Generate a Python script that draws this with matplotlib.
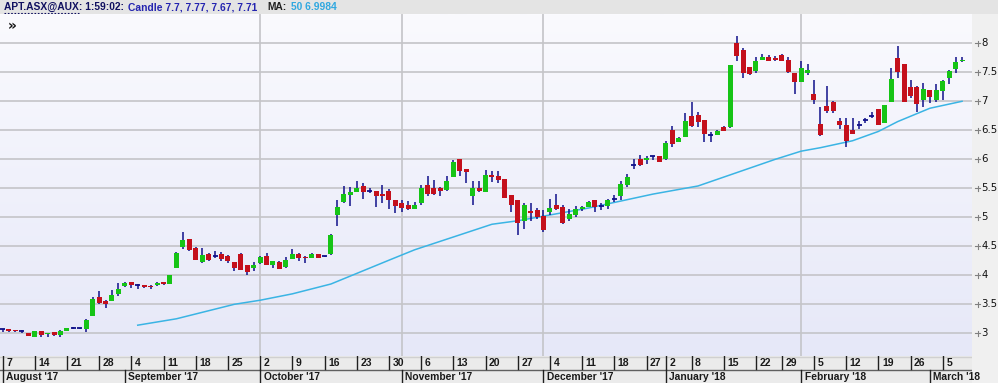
import numpy as np
import pandas as pd
import matplotlib
matplotlib.use("Agg")
import matplotlib.pyplot as plt
from matplotlib.patches import Rectangle
from matplotlib.colors import LinearSegmentedColormap

# ---------------- data ----------------
holidays = ["2017-12-25", "2017-12-26", "2018-01-01", "2018-01-26"]
dates = [d for d in pd.bdate_range("2017-08-07", "2018-03-08") if d.strftime("%Y-%m-%d") not in holidays]

opens = [3.07, 3.07, 3.05, 3.04, 3.01, 2.94, 3.04, 2.98, 3.02, 2.97,
         3.04, 3.10, 3.09, 3.08, 3.30, 3.63, 3.56, 3.56, 3.68, 3.82,
         3.88, 3.84, 3.83, 3.82, 3.83, 3.88, 3.85, 4.13, 4.48, 4.62,
         4.47, 4.23, 4.37, 4.34, 4.37, 4.33, 4.23, 4.37, 4.18, 4.13,
         4.22, 4.33, 4.17, 4.23, 4.14, 4.28, 4.37, 4.32, 4.30, 4.36,
         4.33, 4.36, 5.04, 5.26, 5.39, 5.44, 5.54, 5.46, 5.45, 5.40,
         5.46, 5.30, 5.24, 5.22, 5.15, 5.25, 5.56, 5.51, 5.51, 5.47,
         5.70, 6.01, 5.84, 5.37, 5.51, 5.44, 5.73, 5.71, 5.66, 5.39,
         5.30, 4.94, 5.11, 5.13, 5.02, 5.09, 5.22, 5.17, 4.97, 5.04,
         5.15, 5.18, 5.29, 5.20, 5.20, 5.32, 5.37, 5.56, 5.90, 6.00,
         5.99, 6.05, 6.06, 6.00, 6.51, 6.30, 6.39, 6.75, 6.76, 6.67,
         6.42, 6.42, 6.55, 6.56, 8.01, 7.89, 7.59, 7.52, 7.72, 7.76,
         7.74, 7.80, 7.71, 7.48, 7.33, 7.49, 7.13, 6.61, 6.92, 6.99,
         6.66, 6.59, 6.50, 6.59, 6.67, 6.74, 6.86, 6.63, 6.98, 7.74,
         7.64, 7.24, 7.25, 7.02, 7.19, 7.03, 7.18, 7.41, 7.56, 7.70]
highs = [3.07, 3.08, 3.06, 3.06, 3.01, 3.04, 3.04, 3.01, 3.03, 3.05,
         3.09, 3.11, 3.10, 3.24, 3.63, 3.73, 3.58, 3.75, 3.86, 3.89,
         3.89, 3.85, 3.84, 3.83, 3.88, 3.89, 4.01, 4.40, 4.75, 4.63,
         4.49, 4.47, 4.39, 4.42, 4.40, 4.35, 4.23, 4.38, 4.18, 4.23,
         4.34, 4.39, 4.24, 4.24, 4.32, 4.45, 4.39, 4.34, 4.38, 4.37,
         4.34, 4.71, 5.30, 5.54, 5.52, 5.63, 5.59, 5.50, 5.46, 5.55,
         5.48, 5.30, 5.29, 5.28, 5.26, 5.55, 5.71, 5.64, 5.52, 5.71,
         5.98, 6.01, 5.84, 5.63, 5.63, 5.82, 5.79, 5.79, 5.66, 5.39,
         5.30, 5.24, 5.24, 5.16, 5.13, 5.31, 5.41, 5.22, 5.14, 5.20,
         5.19, 5.28, 5.30, 5.25, 5.31, 5.39, 5.62, 5.75, 6.00, 6.07,
         6.05, 6.06, 6.06, 6.32, 6.57, 6.38, 6.80, 6.99, 6.82, 6.68,
         6.47, 6.50, 6.58, 7.63, 8.13, 7.92, 7.60, 7.77, 7.82, 7.79,
         7.78, 7.82, 7.77, 7.48, 7.69, 7.64, 7.37, 6.90, 7.26, 7.01,
         6.72, 6.72, 6.72, 6.66, 6.71, 6.81, 6.87, 6.94, 7.57, 7.95,
         7.65, 7.36, 7.26, 7.32, 7.19, 7.30, 7.37, 7.54, 7.77, 7.77]
lows = [3.03, 3.03, 3.02, 3.01, 2.95, 2.94, 2.94, 2.93, 2.95, 2.93,
        3.04, 3.07, 3.07, 3.02, 3.30, 3.51, 3.44, 3.56, 3.64, 3.80,
        3.78, 3.77, 3.78, 3.77, 3.81, 3.84, 3.85, 4.13, 4.46, 4.42,
        4.26, 4.21, 4.25, 4.29, 4.25, 4.22, 4.07, 4.10, 4.00, 4.08,
        4.20, 4.17, 4.13, 4.11, 4.13, 4.28, 4.25, 4.22, 4.30, 4.29,
        4.31, 4.35, 4.85, 5.25, 5.20, 5.43, 5.32, 5.42, 5.17, 5.24,
        5.15, 5.08, 5.10, 5.13, 5.14, 5.21, 5.37, 5.39, 5.36, 5.46,
        5.70, 5.72, 5.60, 5.22, 5.43, 5.44, 5.61, 5.59, 5.34, 5.10,
        4.69, 4.80, 4.94, 4.97, 4.74, 5.04, 5.12, 4.89, 4.93, 5.01,
        5.11, 5.17, 5.10, 5.13, 5.15, 5.27, 5.30, 5.52, 5.84, 5.88,
        5.92, 5.98, 5.96, 5.98, 6.22, 6.30, 6.38, 6.55, 6.56, 6.30,
        6.30, 6.42, 6.49, 6.54, 7.70, 7.40, 7.45, 7.49, 7.71, 7.69,
        7.70, 7.69, 7.48, 7.12, 7.33, 7.45, 6.95, 6.40, 6.79, 6.80,
        6.53, 6.22, 6.43, 6.52, 6.62, 6.71, 6.59, 6.62, 6.98, 7.40,
        6.98, 7.06, 6.81, 6.90, 6.97, 6.98, 7.02, 7.29, 7.48, 7.67]
closes = [3.07, 3.04, 3.04, 3.04, 2.96, 3.04, 2.97, 3.01, 2.97, 3.04,
          3.09, 3.10, 3.09, 3.23, 3.59, 3.53, 3.50, 3.66, 3.76, 3.87,
          3.83, 3.84, 3.79, 3.79, 3.86, 3.85, 4.01, 4.39, 4.61, 4.44,
          4.26, 4.35, 4.26, 4.34, 4.28, 4.24, 4.13, 4.10, 4.06, 4.18,
          4.32, 4.17, 4.24, 4.11, 4.26, 4.36, 4.29, 4.29, 4.37, 4.30,
          4.33, 4.70, 5.18, 5.40, 5.44, 5.50, 5.44, 5.46, 5.37, 5.37,
          5.29, 5.20, 5.16, 5.14, 5.22, 5.51, 5.40, 5.41, 5.45, 5.63,
          5.95, 5.80, 5.78, 5.51, 5.45, 5.73, 5.70, 5.64, 5.34, 5.21,
          4.91, 5.21, 5.08, 5.00, 4.78, 5.16, 5.14, 4.90, 5.06, 5.14,
          5.18, 5.26, 5.17, 5.20, 5.30, 5.32, 5.57, 5.70, 5.90, 5.90,
          6.02, 6.05, 5.96, 6.28, 6.26, 6.37, 6.66, 6.57, 6.65, 6.44,
          6.42, 6.49, 6.49, 7.63, 7.78, 7.49, 7.47, 7.70, 7.76, 7.70,
          7.71, 7.70, 7.51, 7.33, 7.58, 7.54, 7.02, 6.42, 6.83, 6.83,
          6.59, 6.32, 6.44, 6.59, 6.67, 6.74, 6.60, 6.94, 7.38, 7.51,
          6.98, 7.09, 6.95, 7.22, 7.08, 7.19, 7.35, 7.53, 7.68, 7.71]

# 50-period moving average at these bar positions
ma_idx = [21, 27, 36, 40, 45, 51, 60, 64, 70, 76, 80, 85, 91, 96, 101,
          108, 120, 124, 127, 132, 136, 139, 144, 149]
ma_val = [3.14, 3.25, 3.50, 3.57, 3.68, 3.85, 4.26, 4.44, 4.66, 4.88, 4.94,
          5.04, 5.16, 5.28, 5.40, 5.54, 6.00, 6.14, 6.20, 6.32, 6.48, 6.65,
          6.88, 7.00]

ytick_vals = [3, 3.5, 4, 4.5, 5, 5.5, 6, 6.5, 7, 7.5, 8]
ytick_labels = ["3", "3.5", "4", "4.5", "5", "5.5", "6", "6.5", "7", "7.5", "8"]
grid_months = ["2017-10", "2017-11", "2017-12", "2018-02"]

header_symbol = "APT.ASX@AUX"
header_parts = [("APT.ASX@AUX: 1:59:02:", "#101060"),
                ("Candle 7.7, 7.77, 7.67, 7.71", "#2424b0"),
                ("MA:", "#202020"), ("50 6.9984", "#30a8e0")]
header_x = [3, 122, 267, 291]

# ---------------- layout ----------------
W, H = 998, 383
fig = plt.figure(figsize=(W / 100, H / 100), dpi=100)
fig.patch.set_facecolor("#f0f0f0")
LBL_FONT = ["Liberation Sans", "DejaVu Sans"]

PLOT_R = 972
PLOT_T = 14
PLOT_B = 356
x_px0, x_step = 2.5, 6.44
xlim = ((0 - x_px0) / x_step, (PLOT_R - x_px0) / x_step)
ylim = (3 - (PLOT_B - 333.3) / 58.0, 3 + (333.3 - PLOT_T) / 58.0)

ax = fig.add_axes([0, (H - PLOT_B) / H, PLOT_R / W, (PLOT_B - PLOT_T) / H])
ax.set_xlim(*xlim)
ax.set_ylim(*ylim)
ax.axis("off")

grad = np.linspace(0, 1, 256).reshape(-1, 1)
cm = LinearSegmentedColormap.from_list("bg", ["#e6e8f8", "#fafafe"])
ax.imshow(grad, aspect="auto", cmap=cm, origin="lower",
          extent=(xlim[0], xlim[1], ylim[0], ylim[1]), zorder=0)

for v in ytick_vals:
    ax.axhline(v, color="#c4c4c8", lw=1.2, zorder=1)
month_keys = [d.strftime("%Y-%m") for d in dates]
for mk in grid_months:
    ax.axvline(month_keys.index(mk), color="#c4c4c8", lw=1.2, zorder=1)

n = len(opens)
bw = 0.78
wick_c = "#10108a"
for i in range(n):
    o, h, l, c = opens[i], highs[i], lows[i], closes[i]
    ax.plot([i, i], [l, h], color=wick_c, lw=1.1, zorder=3, solid_capstyle="butt")
    if abs(c - o) < 0.005:
        ax.plot([i - bw / 2, i + bw / 2], [o, o], color=wick_c, lw=1.3, zorder=4,
                solid_capstyle="butt")
    else:
        col = "#16c416" if c > o else "#c4101c"
        lo, hi = min(o, c), max(o, c)
        ax.add_patch(Rectangle((i - bw / 2, lo), bw, max(hi - lo, 0.02),
                               facecolor=col, edgecolor="none", zorder=4))

ax.plot(ma_idx, ma_val, color="#3ab4e4", lw=1.1, zorder=2)

ax.text(0.008, 0.985, "»", transform=ax.transAxes, fontsize=10, fontweight="bold",
        va="top", ha="left", color="#111111")

# ---------------- header ----------------
hax = fig.add_axes([0, (H - PLOT_T) / H, 1, PLOT_T / H])
hax.set_xlim(0, W)
hax.set_ylim(0, PLOT_T)
hax.axis("off")
hax.add_patch(Rectangle((0, 0), W, PLOT_T, facecolor="#e4e4e4", edgecolor="none"))
renderer = fig.canvas.get_renderer()
prev_end = 0
for (txt, col), xx in zip(header_parts, header_x):
    x0 = max(xx, prev_end + 4)
    t = hax.text(x0, 7, txt, fontsize=7.4, fontweight="bold", color=col,
                 va="center", ha="left", family=LBL_FONT)
    prev_end = t.get_window_extent(renderer).x1
    if txt.startswith(header_symbol):
        probe = hax.text(x0, 7, header_symbol, fontsize=7.4, fontweight="bold",
                         va="center", ha="left", family=LBL_FONT, alpha=0)
        pb = probe.get_window_extent(renderer)
        probe.remove()
        hax.plot([pb.x0, pb.x1], [1.5, 1.5], color="#101060", lw=0.8, ls=(0, (1.5, 1.5)))

# ---------------- right axis labels ----------------
rax = fig.add_axes([PLOT_R / W, (H - PLOT_B) / H, (W - PLOT_R) / W, (PLOT_B - PLOT_T) / H])
rax.set_xlim(PLOT_R, W)
rax.set_ylim(*ylim)
rax.axis("off")
for v, lab in zip(ytick_vals, ytick_labels):
    rax.plot([975, 980], [v, v], color="#808080", lw=0.8)
    rax.plot([977.5, 977.5], [v - 0.04, v + 0.04], color="#808080", lw=0.8)
    rax.text(981.5, v, lab, fontsize=7.3, color="#101010", va="center", ha="left")

# ---------------- date axis ----------------
dax = fig.add_axes([0, 0, PLOT_R / W, (H - PLOT_B) / H])
dax.set_xlim(*xlim)
dax.set_ylim(0, H - PLOT_B)
dax.axis("off")
dax.add_patch(Rectangle((xlim[0], 0), xlim[1] - xlim[0], H - PLOT_B,
                        facecolor="#ebebeb", edgecolor="none"))
dax.axhline(H - PLOT_B - 0.5, color="#d0d0d0", lw=1)
dax.axhline(13.5, color="#606060", lw=1)

week_keys = [d.isocalendar()[1] for d in dates]
for i, d in enumerate(dates):
    if i == 0 or week_keys[i] != week_keys[i - 1]:
        dax.plot([i, i], [14, 27], color="#202020", lw=1)
        dax.text(i + 0.55, 20.5, str(d.day), fontsize=7.5, fontweight="bold",
                 color="#1a1a1a", va="center", ha="left", family=LBL_FONT)
    if i == 0 or month_keys[i] != month_keys[i - 1]:
        dax.plot([i, i], [0, 13], color="#202020", lw=1)
        dax.text(i + 0.55, 6.5, d.strftime("%B '%y"), fontsize=7.4, fontweight="bold",
                 color="#1a1a1a", va="center", ha="left", family=LBL_FONT)

fig.savefig("out.png", dpi=100, facecolor=fig.get_facecolor())
